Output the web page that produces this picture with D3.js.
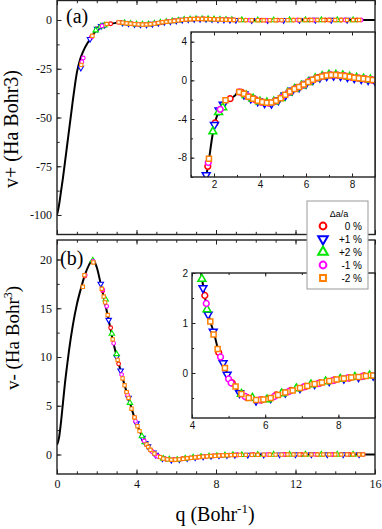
<!DOCTYPE html>
<html>
<head>
<meta charset="utf-8">
<script src="https://cdn.jsdelivr.net/npm/d3@7"></script>
<style>
body { margin: 0; background: #fff; }
svg { display: block; }
</style>
</head>
<body>
<div id="chart"></div>
<script>

// ---- data: solid lines [q, v] ----
var vPlusLine = [[0,-100],[0.1,-95],[0.2,-88],[0.3,-81],[0.4,-73],[0.5,-65],[0.6,-57],[0.7,-49],[0.8,-41],[0.9,-33.5],
  [1.0,-27],[1.1,-22.5],[1.2,-19],[1.3,-16.5],[1.4,-14.3],[1.5,-12.4],[1.6,-10.8],[1.7,-9.4],[1.8,-7.9],[1.9,-6.2],
  [2.0,-4.8],[2.1,-3.9],[2.2,-3.2],[2.3,-2.75],[2.4,-2.4],[2.5,-2.1],[2.7,-1.9],[2.9,-1.6],[3.0,-1.35],[3.1,-1.2],
  [3.2,-1.25],[3.35,-1.45],[3.5,-1.7],[3.7,-1.9],[3.9,-2.1],[4.1,-2.25],[4.4,-2.35],[4.6,-2.2],[4.8,-2.0],[5.0,-1.7],
  [5.2,-1.3],[5.4,-1.0],[5.6,-0.8],[5.8,-0.55],[6.0,-0.3],[6.2,-0.05],[6.4,0.2],[6.6,0.35],[6.8,0.47],[7.0,0.55],
  [7.2,0.56],[7.5,0.5],[7.8,0.4],[8.0,0.3],[8.3,0.22],[8.6,0.12],[9.0,0.0],[9.5,-0.06],[10,-0.1],[10.5,-0.12],
  [11,-0.09],[12,-0.02],[13,0],[16,0]]

var vMinusLine = [[0,1.0],[0.1,1.7],[0.2,3.3],[0.3,5.3],[0.4,7.3],[0.5,9.0],[0.6,10.6],[0.8,13.3],[1.0,15.4],[1.2,17.0],
  [1.4,18.4],[1.6,19.4],[1.75,19.85],[1.85,19.85],[2.0,19.2],[2.2,17.5],[2.4,15.7],[2.6,13.8],[2.8,11.8],[3.0,10.1],
  [3.2,8.6],[3.4,7.1],[3.6,5.8],[3.8,4.4],[4.0,3.2],[4.15,2.45],[4.27,1.9],[4.4,1.33],[4.5,1.03],[4.6,0.8],
  [4.73,0.42],[4.85,0.2],[4.96,0.0],[5.1,-0.2],[5.25,-0.35],[5.45,-0.47],[5.75,-0.54],[6.0,-0.53],[6.4,-0.42],[6.9,-0.3],
  [7.3,-0.21],[7.8,-0.14],[8.3,-0.09],[9.0,-0.05],[10,-0.03],[11,-0.01],[12,0],[16,0]]

// ---- data: symbols, v+ ----
var vpZero = [[1.73,-8.9],[2.05,-4.4],[2.7,-1.9],[3.2,-1.25],[3.5,-1.7],[3.8,-2.0],[4.1,-2.25],[4.4,-2.35],[4.7,-2.1],
  [5.0,-1.7],[5.3,-1.15],[5.6,-0.8],[5.9,-0.42],[6.2,-0.05],[6.5,0.28],[6.8,0.45],[7.1,0.55],[7.4,0.52],[7.7,0.44],
  [8.0,0.3],[8.3,0.22],[8.6,0.12],[8.9,0.03],[9.5,-0.05],[10.3,-0.1],[11.1,-0.08],[11.9,-0.03],[12.7,0],[13.5,0],[14.3,0],[15.1,0]]
var vpPlus1 = [[1.2,-24.5],[1.66,-9.8],[2.02,-4.6],[2.22,-3.1],[2.4,-2.5],[3.3,-1.45],[3.6,-1.85],[3.9,-2.15],[4.2,-2.35],
  [4.5,-2.4],[4.8,-2.05],[5.1,-1.55],[5.4,-1.05],[5.7,-0.72],[6.0,-0.35],[6.3,0.05],[6.6,0.3],[6.9,0.45],[7.2,0.5],
  [7.5,0.46],[7.8,0.36],[8.1,0.24],[8.4,0.15],[8.7,0.05],[9.0,-0.05],[9.8,-0.12],[10.6,-0.12],[11.4,-0.06],[12.2,-0.02],
  [13.0,0],[13.8,0],[14.6,0]]
var vpPlus2 = [[1.95,-5.3],[2.2,-3.3],[2.38,-2.8],[3.4,-1.55],[3.7,-1.9],[4.0,-2.2],[4.3,-2.3],[4.6,-2.2],[4.9,-1.85],
  [5.2,-1.3],[5.5,-0.9],[5.8,-0.55],[6.1,-0.2],[6.4,0.2],[6.7,0.42],[7.0,0.57],[7.3,0.57],[7.6,0.5],[7.9,0.36],
  [8.2,0.26],[8.5,0.17],[8.8,0.07],[9.3,-0.02],[10.1,-0.1],[10.9,-0.1],[11.7,-0.05],[12.5,0],[13.3,0],[14.1,0],[14.9,0]]
var vpMinus1 = [[1.25,-21.5],[1.32,-19.5],[1.75,-8.5],[2.27,-3.0],[3.1,-1.2],[3.45,-1.62],[3.75,-1.95],[4.05,-2.25],
  [4.35,-2.35],[4.65,-2.15],[4.95,-1.75],[5.25,-1.25],[5.55,-0.85],[5.85,-0.5],[6.15,-0.12],[6.45,0.22],[6.75,0.44],
  [7.05,0.56],[7.35,0.54],[7.65,0.47],[7.95,0.32],[8.25,0.24],[8.55,0.15],[8.85,0.05],[9.7,-0.08],[10.5,-0.11],
  [11.3,-0.07],[12.1,-0.02],[12.9,0],[13.7,0],[14.5,0],[15.3,0]]
var vpMinus2 = [[1.22,-23],[1.78,-8.1],[2.5,-2.05],[3.1,-1.2],[3.3,-1.4],[3.5,-1.7],[3.7,-1.9],[3.9,-2.1],[4.1,-2.25],
  [4.3,-2.32],[4.5,-2.3],[4.7,-2.1],[4.9,-1.85],[5.1,-1.5],[5.3,-1.15],[5.5,-0.9],[5.7,-0.7],[5.9,-0.42],[6.1,-0.18],
  [6.3,0.05],[6.5,0.28],[6.7,0.4],[6.9,0.5],[7.1,0.55],[7.3,0.55],[7.5,0.5],[7.7,0.45],[7.9,0.36],[8.1,0.27],[8.3,0.22],
  [8.5,0.16],[8.7,0.1],[8.9,0.04],[9.2,-0.02],[9.5,-0.06],[9.8,-0.1],[10.1,-0.11],[10.4,-0.12],[10.7,-0.11],[11.0,-0.09],
  [11.3,-0.07],[11.6,-0.05],[11.9,-0.03],[12.2,-0.01],[12.5,0],[12.8,0],[13.1,0],[13.4,0],[13.7,0],[14.0,0],[14.3,0],
  [14.6,0],[14.9,0],[15.2,0]]

// ---- data: symbols, v- ----
var vmZero = [[1.4,18.3],[2.3,16.8],[2.7,13.0],[3.1,9.3],[3.5,6.4],[3.9,3.8],[4.35,1.55],[4.73,0.41],[5.1,-0.2],
  [5.5,-0.49],[5.9,-0.54],[6.3,-0.44],[6.7,-0.35],[7.1,-0.27],[7.5,-0.2],[7.9,-0.14],[8.3,-0.1],[8.7,-0.06],[9.1,-0.04],
  [9.9,-0.02],[10.7,-0.01],[11.5,0],[12.3,0],[13.1,0],[13.9,0],[14.7,0]]
var vmPlus1 = [[2.2,17.5],[2.6,13.8],[3.0,10.0],[3.2,8.6],[3.6,5.8],[4.0,3.2],[4.3,1.7],[4.44,1.17],[4.58,0.83],
  [4.85,0.2],[4.96,-0.03],[5.3,-0.4],[5.75,-0.55],[6.15,-0.5],[6.55,-0.39],[6.95,-0.3],[7.35,-0.22],[7.75,-0.16],
  [8.15,-0.11],[8.55,-0.08],[8.95,-0.05],[9.6,-0.04],[10.4,-0.03],[11.2,-0.01],[12.0,0],[12.8,0],[13.6,0],[14.4,0],[15.2,0]]
var vmPlus2 = [[1.8,19.9],[2.45,15.9],[2.76,12.4],[3.0,10.3],[3.67,5.3],[4.27,1.88],[4.41,1.27],[5.35,-0.42],[5.65,-0.5],
  [6.05,-0.53],[6.45,-0.41],[6.85,-0.31],[7.25,-0.23],[7.65,-0.17],[8.05,-0.12],[8.45,-0.08],[8.85,-0.05],[9.3,-0.04],
  [10.1,-0.02],[10.9,-0.01],[11.7,0],[12.5,0],[13.3,0],[14.1,0],[14.9,0]]
var vmMinus1 = [[1.42,18.4],[1.82,19.8],[2.3,16.9],[2.5,15.2],[2.85,11.4],[3.25,8.2],[3.55,6.1],[3.95,3.4],[4.39,1.39],
  [4.78,0.32],[5.0,-0.12],[5.07,-0.2],[5.45,-0.47],[5.85,-0.54],[6.25,-0.47],[6.65,-0.37],[7.05,-0.28],[7.45,-0.21],
  [7.85,-0.15],[8.25,-0.1],[8.65,-0.07],[9.05,-0.05],[9.8,-0.03],[10.6,-0.01],[11.4,0],[12.2,0],[13.0,0],[13.8,0],
  [14.6,0],[15.4,0]]
var vmMinus2 = [[1.3,17.2],[1.38,18.4],[1.83,19.7],[2.25,17.0],[2.35,16.2],[2.42,15.6],[2.55,14.3],[2.8,11.8],[3.05,9.7],
  [3.3,7.8],[3.4,7.1],[3.5,6.4],[3.6,5.8],[3.75,4.7],[3.9,3.8],[4.05,2.9],[4.15,2.4],[4.5,1.03],[4.59,0.77],[4.7,0.48],
  [4.9,0.1],[5.19,-0.27],[5.35,-0.42],[5.55,-0.5],[5.75,-0.54],[5.95,-0.53],[6.15,-0.5],[6.35,-0.44],[6.55,-0.39],
  [6.75,-0.35],[6.95,-0.3],[7.15,-0.26],[7.35,-0.22],[7.55,-0.19],[7.75,-0.16],[7.95,-0.13],[8.15,-0.11],[8.35,-0.09],
  [8.55,-0.08],[8.75,-0.06],[8.95,-0.05],[9.2,-0.04],[9.5,-0.04],[9.8,-0.03],[10.1,-0.03],[10.4,-0.02],[10.7,-0.02],
  [11.0,-0.01],[11.3,-0.01],[11.6,0],[11.9,0],[12.2,0],[12.5,0],[12.8,0],[13.1,0],[13.4,0],[13.7,0],[14.0,0],[14.3,0],
  [14.6,0],[14.9,0],[15.2,0],[15.4,0]]

var seriesNames = ["0 %", "+1 %", "+2 %", "-1 %", "-2 %"]
var legendTitle = "\u0394a/a"

// ---- ticks ----
var qMajor = [0, 4, 8, 12, 16]
var qMinor = d3.range(0, 17, 1)
var vpMajor = [-100, -75, -50, -25, 0]
var vpMinor = [-100, -87.5, -75, -62.5, -50, -37.5, -25, -12.5, 0]
var vmMajor = [0, 5, 10, 15, 20]
var vmMinor = [0, 2.5, 5, 7.5, 10, 12.5, 15, 17.5, 20]
var inAqMajor = [2, 4, 6, 8]
var inAqMinor = [1, 2, 3, 4, 5, 6, 7, 8, 9]
var inAvMajor = [-8, -4, 0, 4]
var inAvMinor = [-10, -8, -6, -4, -2, 0, 2, 4]
var inBqMajor = [4, 6, 8]
var inBqMinor = [4, 5, 6, 7, 8, 9]
var inBvMajor = [0, 1, 2]
var inBvMinor = [-0.5, 0, 0.5, 1, 1.5, 2]

var colors = ["#ff0000", "#0000ff", "#00e600", "#ff00ff", "#ff8000"]
var shapes = [d3.symbolCircle, d3.symbolTriangle, d3.symbolTriangle, d3.symbolCircle, d3.symbolSquare]
var serif = "'Liberation Serif', 'Times New Roman', serif"
var sans = "'Liberation Sans', Arial, sans-serif"

var svg = d3.select("#chart")
  .append("svg")
    .attr("width", 382)
    .attr("height", 529)

var clipId = 0

function addAxis(g, gen, vals, len, fmt, font, fs, pad, tr) {
  var a = g.append("g")
    .attr("transform", tr)
    .call(gen.tickValues(vals).tickSize(-len).tickPadding(pad).tickFormat(fmt))
  a.select(".domain").remove()
  a.selectAll(".tick line").attr("stroke", "#222").attr("stroke-width", 1)
  a.attr("font-family", font).attr("font-size", fs)
  a.selectAll("text").attr("fill", "#111")
  return a
}

function panel(o) {
  var g = svg.append("g")
  var x = d3.scaleLinear().domain(o.xDom).range([o.left, o.right])
  var y = d3.scaleLinear().domain(o.yDom).range([o.bottom, o.top])
  var id = "clip" + (clipId++)
  svg.append("clipPath").attr("id", id).append("rect")
    .attr("x", o.left).attr("y", o.top)
    .attr("width", o.right - o.left).attr("height", o.bottom - o.top)

  g.append("rect")
    .attr("x", o.left).attr("y", o.top)
    .attr("width", o.right - o.left).attr("height", o.bottom - o.top)
    .attr("fill", "white")

  var lab = function(d) { return String(d) }
  var none = function() { return "" }
  // left
  addAxis(g, d3.axisLeft(y), o.yMinor, o.tick * 0.6, none, o.font, o.fs, o.pad, "translate(" + o.left + ",0)")
  addAxis(g, d3.axisLeft(y), o.yMajor, o.tick, lab, o.font, o.fs, o.pad, "translate(" + o.left + ",0)")
  // bottom
  addAxis(g, d3.axisBottom(x), o.xMinor, o.tick * 0.6, none, o.font, o.fs, o.pad, "translate(0," + o.bottom + ")")
  addAxis(g, d3.axisBottom(x), o.xMajor, o.tick, o.xLabels ? lab : none, o.font, o.fs, o.pad, "translate(0," + o.bottom + ")")
  // top
  addAxis(g, d3.axisTop(x), o.xMinor, o.tick * 0.6, none, o.font, o.fs, o.pad, "translate(0," + o.top + ")")
  addAxis(g, d3.axisTop(x), o.xMajor, o.tick, none, o.font, o.fs, o.pad, "translate(0," + o.top + ")")

  var line = d3.line()
    .x(function(d) { return x(d[0]) })
    .y(function(d) { return y(d[1]) })
    .curve(d3.curveMonotoneX)

  g.append("path")
    .datum(o.line)
    .attr("clip-path", "url(#" + id + ")")
    .attr("fill", "none")
    .attr("stroke", "black")
    .attr("stroke-width", o.lw)
    .attr("d", line)

  // symbols, orange drawn last
  o.series.forEach(function(s, i) {
    g.append("g")
      .attr("clip-path", "url(#" + id + ")")
      .selectAll("path")
      .data(s)
      .enter()
      .append("path")
        .attr("transform", function(d) {
          return "translate(" + x(d[0]) + "," + y(d[1]) + ")" + (i == 1 ? " rotate(180)" : "")
        })
        .attr("d", d3.symbol().type(shapes[i]).size(o.sizes[i]))
        .attr("fill", "white")
        .attr("stroke", colors[i])
        .attr("stroke-width", o.sw)
  })

  g.append("rect")
    .attr("x", o.left).attr("y", o.top)
    .attr("width", o.right - o.left).attr("height", o.bottom - o.top)
    .attr("fill", "none")
    .attr("stroke", "#222")
    .attr("stroke-width", 1.4)
}

var mainSizes = [11, 13, 13, 11, 11]
var insetSizes = [26, 27, 27, 26, 25]

// (a) v+
panel({ left: 57, right: 375, top: 0.5, bottom: 234.5, xDom: [0, 16], yDom: [-110, 10],
  xMajor: qMajor, xMinor: qMinor, yMajor: vpMajor, yMinor: vpMinor, xLabels: false,
  tick: 4.5, font: serif, fs: 12, pad: 5, lw: 2, sw: 1.1, sizes: mainSizes,
  line: vPlusLine, series: [vpZero, vpPlus1, vpPlus2, vpMinus1, vpMinus2] })

panel({ left: 191, right: 375, top: 32, bottom: 177, xDom: [1, 9], yDom: [-10, 5],
  xMajor: inAqMajor, xMinor: inAqMinor, yMajor: inAvMajor, yMinor: inAvMinor, xLabels: true,
  tick: 3.5, font: sans, fs: 10, pad: 4, lw: 2, sw: 1.5, sizes: insetSizes,
  line: vPlusLine, series: [vpZero, vpPlus1, vpPlus2, vpMinus1, vpMinus2] })

// (b) v-
panel({ left: 57, right: 375, top: 240, bottom: 474, xDom: [0, 16], yDom: [-2, 22],
  xMajor: qMajor, xMinor: qMinor, yMajor: vmMajor, yMinor: vmMinor, xLabels: true,
  tick: 4.5, font: serif, fs: 12, pad: 5, lw: 2, sw: 1.1, sizes: mainSizes,
  line: vMinusLine, series: [vmZero, vmPlus1, vmPlus2, vmMinus1, vmMinus2] })

panel({ left: 192, right: 375, top: 273, bottom: 418, xDom: [4, 9], yDom: [-0.9, 2],
  xMajor: inBqMajor, xMinor: inBqMinor, yMajor: inBvMajor, yMinor: inBvMinor, xLabels: true,
  tick: 3.5, font: sans, fs: 10, pad: 4, lw: 2, sw: 1.5, sizes: insetSizes,
  line: vMinusLine, series: [vmZero, vmPlus1, vmPlus2, vmMinus1, vmMinus2] })

// panel labels
svg.append("text").attr("x", 66).attr("y", 23)
  .style("font-family", serif).style("font-size", "20px").text("(a)")
svg.append("text").attr("x", 60).attr("y", 265)
  .style("font-family", serif).style("font-size", "20px").text("(b)")

// axis titles
svg.append("text")
  .attr("transform", "translate(18,129) rotate(-90)")
  .attr("text-anchor", "middle")
  .style("font-family", serif).style("font-size", "20px")
  .text("v+ (Ha Bohr3)")

var yb = svg.append("text")
  .attr("transform", "translate(19,338) rotate(-90)")
  .attr("text-anchor", "middle")
  .style("font-family", serif).style("font-size", "19px")
yb.append("tspan").text("v- (Ha Bohr")
yb.append("tspan").attr("dy", -7).style("font-size", "12px").text("3")
yb.append("tspan").attr("dy", 7).text(")")

var xt = svg.append("text")
  .attr("x", 215).attr("y", 521)
  .attr("text-anchor", "middle")
  .style("font-family", serif).style("font-size", "20px")
xt.append("tspan").text("q (Bohr")
xt.append("tspan").attr("dy", -8).style("font-size", "13px").text("-1")
xt.append("tspan").attr("dy", 8).text(")")

// legend
var leg = svg.append("g")
leg.append("rect")
  .attr("x", 307).attr("y", 201).attr("width", 61).attr("height", 88)
  .attr("fill", "white").attr("stroke", "#999").attr("stroke-width", 1)
leg.append("text")
  .attr("x", 339).attr("y", 217).attr("text-anchor", "middle")
  .style("font-family", sans).style("font-size", "9px").text(legendTitle)
var legSizes = [36, 40, 40, 36, 34]
seriesNames.forEach(function(n, i) {
  var yy = 226 + i * 13
  leg.append("path")
    .attr("transform", "translate(323," + yy + ")" + (i == 1 ? " rotate(180)" : ""))
    .attr("d", d3.symbol().type(shapes[i]).size(legSizes[i]))
    .attr("fill", "white").attr("stroke", colors[i]).attr("stroke-width", 2)
  leg.append("text")
    .attr("x", 362).attr("y", yy + 3.5).attr("text-anchor", "end")
    .style("font-family", sans).style("font-size", "10px").text(n)
})

</script>
</body>
</html>
